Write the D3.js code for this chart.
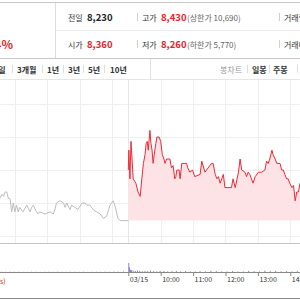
<!DOCTYPE html>
<html><head><meta charset="utf-8">
<script src="https://cdn.jsdelivr.net/npm/d3@7"></script>
<style>html,body{margin:0;padding:0;background:#fff;overflow:hidden}svg{display:block}</style>
</head><body><svg id="c" width="300" height="300"></svg>
<script>
// ---------- data ----------
const prevClose = 8230;
const changeText = "4%";
const infoLabels = [["전일", "시가"], ["고가", "저가"]];
const infoValues = [["8,230", "8,360"], ["8,430", "8,260"]];
const infoLimits = ["(상한가 10,690)", "(하한가 5,770)"];
const volLabels = ["거래량", "거래대금"];
const periodTabs = ["1주일", "3개월", "1년", "3년", "5년", "10년"];
const chartTabs = ["봉차트", "일봉", "주봉"];

const prevTimes = ["11:32","11:36","11:39","11:42","11:45","11:48","11:51","11:54","11:57","12:00","12:03","12:06","12:09","12:15","12:22","12:28","12:31","12:34","12:40","12:43","12:46","12:56","13:05","13:11","13:14","13:17","13:23","13:30","13:33","13:36","13:42","13:45","13:51","13:57","14:04","14:10","14:13","14:19","14:25","14:31","14:38","14:44","14:50","14:56","15:02","15:05","15:11","15:15","15:20","15:30"];
const prevPrices = [8280,8290,8285,8295,8295,8280,8280,8250,8270,8250,8265,8250,8260,8250,8265,8250,8260,8265,8250,8245,8250,8245,8250,8245,8255,8270,8275,8270,8260,8270,8255,8265,8260,8255,8270,8270,8265,8265,8255,8250,8245,8235,8240,8265,8275,8265,8235,8230,8230,8230];

const todayTimes = ["09:00","09:01","09:03","09:05","09:09","09:14","09:18","09:22","09:25","09:28","09:31","09:33","09:35","09:37","09:40","09:42","09:44","09:46","09:48","09:51","09:53","09:57","10:00","10:03","10:06","10:08","10:11","10:17","10:20","10:23","10:26","10:28","10:30","10:34","10:36","10:39","10:48","10:50","10:54","10:59","11:03","11:13","11:16","11:22","11:34","11:37","11:41","11:44","11:47","11:50","11:53","11:56","11:59","12:11","12:14","12:18","12:24","12:27","12:30","12:36","12:39","12:42","12:45","12:48","12:51","12:55","13:01","13:07","13:13","13:16","13:19","13:22","13:26","13:28","13:32","13:35","13:41","13:44","13:47","13:50","13:53","13:56","13:59","14:03","14:06","14:09","14:12","14:15","14:18"];
const todayPrices = [8345,8390,8325,8410,8325,8315,8295,8285,8325,8360,8380,8405,8410,8390,8435,8405,8390,8360,8380,8405,8420,8420,8410,8380,8370,8360,8370,8370,8350,8355,8325,8330,8345,8345,8325,8360,8360,8350,8340,8345,8330,8335,8365,8340,8360,8360,8335,8325,8330,8315,8325,8335,8305,8305,8325,8305,8340,8370,8345,8340,8330,8340,8335,8325,8315,8330,8340,8340,8345,8365,8360,8370,8390,8380,8370,8360,8360,8345,8345,8335,8325,8325,8315,8305,8310,8275,8295,8295,8315];

const todayVolTimes = ["09:00","09:01","09:02","09:03","09:05","09:08","09:12","09:16","09:20","09:25","09:30","09:35","09:40","09:46","09:52","09:58","10:05","10:12","10:20","10:28","10:36","10:45","10:54","11:03","11:12","11:22","11:32","11:42","11:52","12:02","12:12","12:22","12:32","12:42","12:52","13:02","13:12","13:22","13:32","13:42","13:52","14:02","14:12"];
const todayVol = [31000,16000,9000,7000,6000,5000,4000,5000,4000,3000,4000,3000,5000,3000,2000,4000,3000,2000,3000,4000,2000,3000,2000,2000,3000,2000,4000,3000,2000,2000,3000,2000,2000,4000,3000,2000,5000,3000,4000,2000,3000,2000,3000];
const prevVolTimes = ["11:34","11:42","11:50","11:58","12:06","12:14","12:22","12:30","12:38","12:46","12:54","13:02","13:10","13:18","13:26","13:34","13:42","13:50","13:58","14:06","14:14","14:22","14:30","14:38","14:46","14:54","15:02","15:10","15:20"];
const prevVol = [2000,1500,2500,1500,2000,1500,1000,2000,1500,1000,1500,2000,1500,2500,1500,1000,2000,1500,1500,2000,1000,1500,2000,1500,2500,2000,3000,2500,4000];

const priceGrid = [8195, 8270, 8345, 8420, 8495];
const prevHourTicks = ["12:00","13:00","14:00","15:00"];
const todayHourTicks = ["09:00","10:00","11:00","12:00","13:00","14:00","15:00"];
const tickLabels = ["03/15","10:00","11:00","12:00","13:00","14:00","15:00"];
const footNote = "s)";

// ---------- helpers ----------
const toMin = s => { const [h, m] = s.split(":").map(Number); return h * 60 + m; };
const todayIdx = s => toMin(s) - 540;   // minutes after 09:00
const prevIdx = s => toMin(s) - 930;    // minutes before 15:30 of previous session

const svg = d3.select("#c");
const FONT = "'Noto Sans CJK KR','Noto Sans',sans-serif";
const RED = "#e6222c";

// ---------- info panel ----------
const info = svg.append("g").attr("font-family", FONT);
info.append("line").attr("x1", 0).attr("x2", 300).attr("y1", 2.5).attr("y2", 2.5).attr("stroke", "#c9c9c9");
info.append("line").attr("x1", 55.5).attr("x2", 55.5).attr("y1", 3).attr("y2", 58).attr("stroke", "#dcdcdc");
info.append("line").attr("x1", 56).attr("x2", 300).attr("y1", 30.5).attr("y2", 30.5).attr("stroke", "#ececec");
info.append("line").attr("x1", 0).attr("x2", 300).attr("y1", 58.5).attr("y2", 58.5).attr("stroke", "#c9c9c9");

info.append("text").attr("x", 13).attr("y", 43).attr("text-anchor", "end").attr("dominant-baseline", "central")
  .attr("font-size", 12).attr("font-weight", "bold").attr("fill", RED).text(changeText);

const rowsY = [17, 44];
rowsY.forEach((yy, r) => {
  info.append("text").attr("x", 68).attr("y", yy).attr("dominant-baseline", "central").attr("font-size", 8).attr("fill", "#333").text(infoLabels[0][r]);
  info.append("text").attr("x", 87).attr("y", yy).attr("dominant-baseline", "central").attr("font-size", 9.5).attr("font-weight", "bold").attr("fill", r === 0 ? "#222" : RED).text(infoValues[0][r]);
  info.append("line").attr("x1", 137.5).attr("x2", 137.5).attr("y1", yy - 4).attr("y2", yy + 4).attr("stroke", "#d0d0d0");
  info.append("text").attr("x", 142).attr("y", yy).attr("dominant-baseline", "central").attr("font-size", 8).attr("fill", "#333").text(infoLabels[1][r]);
  info.append("text").attr("x", 161).attr("y", yy).attr("dominant-baseline", "central").attr("font-size", 9.5).attr("font-weight", "bold").attr("fill", RED).text(infoValues[1][r]);
  info.append("text").attr("x", 187).attr("y", yy).attr("dominant-baseline", "central").attr("font-size", 8).attr("fill", "#666").text(infoLimits[r]);
  info.append("line").attr("x1", 279.5).attr("x2", 279.5).attr("y1", yy - 4).attr("y2", yy + 4).attr("stroke", "#d0d0d0");
  info.append("text").attr("x", 284).attr("y", yy).attr("dominant-baseline", "central").attr("font-size", 8).attr("fill", "#333").text(volLabels[r]);
});

// ---------- tab row ----------
const tabs = svg.append("g").attr("font-family", FONT);
const tabY = 69;
const tabX = [5.5, 17, 47, 68, 88, 110];
periodTabs.forEach((t, i) => {
  tabs.append("text").attr("x", tabX[i]).attr("y", tabY).attr("dominant-baseline", "central")
    .attr("text-anchor", i === 0 ? "end" : "start")
    .attr("font-size", 8).attr("font-weight", "bold").attr("fill", "#333").text(t);
});
[12, 42, 63, 83, 104].forEach(x => tabs.append("line").attr("x1", x + .5).attr("x2", x + .5).attr("y1", tabY - 4).attr("y2", tabY + 4).attr("stroke", "#ddd"));
tabs.append("line").attr("x1", 150.5).attr("x2", 150.5).attr("y1", 59).attr("y2", 79).attr("stroke", "#e0e0e0");
const ctX = [220, 252, 273];
chartTabs.forEach((t, i) => {
  tabs.append("text").attr("x", ctX[i]).attr("y", tabY).attr("dominant-baseline", "central")
    .attr("font-size", 8).attr("font-weight", i === 0 ? "normal" : "bold").attr("fill", i === 0 ? "#999" : "#333").text(t);
});
[247, 269, 297].forEach(x => tabs.append("line").attr("x1", x + .5).attr("x2", x + .5).attr("y1", tabY - 4).attr("y2", tabY + 4).attr("stroke", "#ddd"));
tabs.append("line").attr("x1", 0).attr("x2", 300).attr("y1", 79.5).attr("y2", 79.5).attr("stroke", "#e6e6e6");

// ---------- scales ----------
const x = d3.scaleLinear().domain([-240, 390]).range([-1.3, 338.9]);
const y = d3.scaleLinear().domain([8195, 8495]).range([236, 104]);
const yv = d3.scaleLinear().domain([0, 100000]).range([272, 243]);

// grid
const grid = svg.append("g");
grid.selectAll(".hg").data(priceGrid).join("line")
  .attr("x1", 0).attr("x2", 300).attr("y1", d => Math.round(y(d)) + .5).attr("y2", d => Math.round(y(d)) + .5)
  .attr("stroke", "#efefef");
const vTicks = prevHourTicks.map(prevIdx).concat(todayHourTicks.map(todayIdx));
grid.selectAll(".vg").data(vTicks).join("line")
  .attr("x1", d => Math.round(x(d)) + .5).attr("x2", d => Math.round(x(d)) + .5)
  .attr("y1", 80).attr("y2", 243).attr("stroke", d => d === 0 ? "#e6e6e6" : "#efefef");

// area + line today
const today = todayTimes.map((t, i) => ({ m: todayIdx(t), p: todayPrices[i] }));
const prev = prevTimes.map((t, i) => ({ m: prevIdx(t), p: prevPrices[i] }));

svg.append("path").datum(today)
  .attr("d", d3.area().x(d => x(d.m)).y0(y(prevClose)).y1(d => y(d.p)))
  .attr("fill", "#fde3e6");
svg.append("path").datum(prev)
  .attr("d", d3.line().x(d => x(d.m)).y(d => y(d.p)))
  .attr("fill", "none").attr("stroke", "#bdbdbd").attr("stroke-width", 1);
svg.append("path").datum(today)
  .attr("d", d3.line().x(d => x(d.m)).y(d => y(d.p)))
  .attr("fill", "none").attr("stroke", "#ee2a35").attr("stroke-width", 1);

// panel separator
svg.append("line").attr("x1", 0).attr("x2", 300).attr("y1", 243.5).attr("y2", 243.5).attr("stroke", "#c4c4c4");

// volume
svg.selectAll(".pv").data(prevVolTimes).join("rect")
  .attr("x", d => x(prevIdx(d))).attr("width", 1)
  .attr("y", (d, i) => yv(prevVol[i])).attr("height", (d, i) => yv(0) - yv(prevVol[i]))
  .attr("fill", "#c8c8c8");
svg.selectAll(".tv").data(todayVolTimes).join("rect")
  .attr("x", d => x(todayIdx(d))).attr("width", 1)
  .attr("y", (d, i) => yv(todayVol[i])).attr("height", (d, i) => yv(0) - yv(todayVol[i]))
  .attr("fill", "#8b7cd0");

// x axis
const xAxis = d3.axisBottom(x).tickValues(todayHourTicks.map(todayIdx))
  .tickFormat((d, i) => tickLabels[i]).tickSize(4).tickSizeOuter(0);
const ax = svg.append("g").attr("transform", "translate(0,272)").call(xAxis);
ax.select(".domain").attr("d", "M0,0.5H300").attr("stroke", "#888");
ax.selectAll(".tick line").attr("stroke", "#888");
ax.selectAll(".tick text").attr("font-family", FONT).attr("font-size", 7).attr("fill", "#333")
  .attr("text-anchor", "start").attr("dx", 1).attr("y", 5);

svg.append("text").attr("x", 0).attr("y", 281).attr("dominant-baseline", "central")
  .attr("font-family", FONT).attr("font-size", 7).attr("fill", RED).text(footNote);

svg.append("line").attr("x1", 0).attr("x2", 300).attr("y1", 298.5).attr("y2", 298.5).attr("stroke", "#888");
</script></body></html>
